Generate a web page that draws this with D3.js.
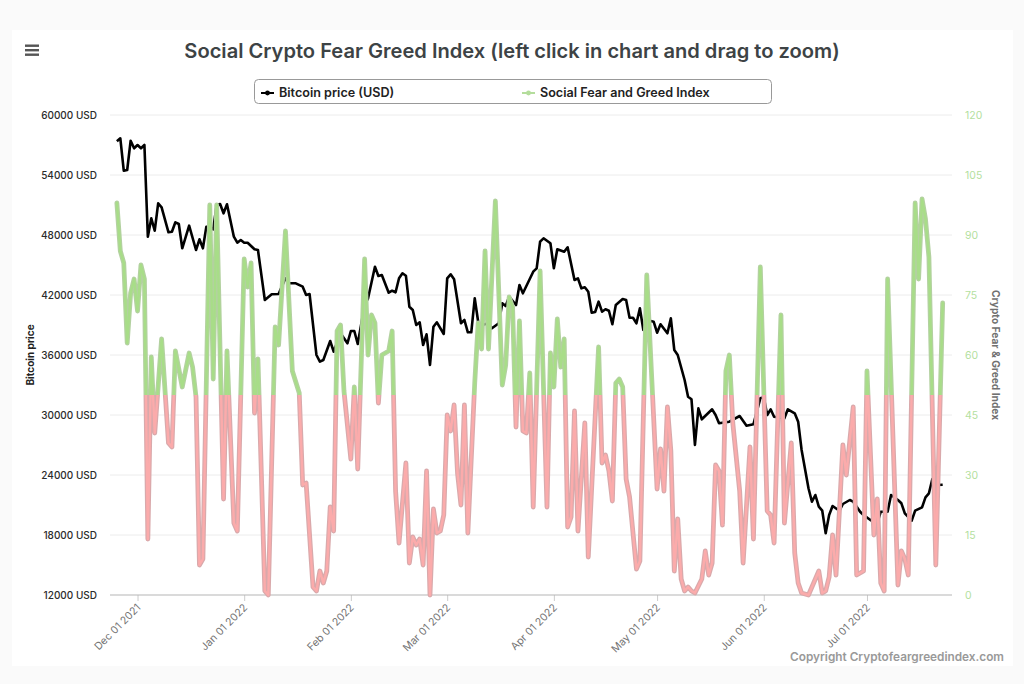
<!DOCTYPE html>
<html lang="en">
<head>
  <meta charset="UTF-8">
  <script src="https://d3js.org/d3.v7.min.js"></script>
  <title>Social Crypto Fear Greed Index</title>
  <style>
    html, body { margin: 0; background: #fafafa; }
    svg { display: block; font-family: Inter, "Noto Sans", sans-serif; }
  </style>
</head>
<body>
  <div id="chart"></div>
  <script>
    // days are counted from Dec 01 2021
    const btcDays = [-6,-5,-4,-3,-2,-1,0,1,2,3,4,5,6,7,9,10,11,12,13,15,17,18,19,20,22,23,24,25,26,28,29,30,31,32,34,35,37,39,41,43,44,46,48,49,50,52,53,54,56,57,59,61,62,63,64,66,67,69,70,71,73,74,75,76,77,78,79,80,81,82,83,84,85,86,87,89,90,91,92,94,95,96,97,98,99,100,102,103,105,106,107,108,110,111,112,115,116,117,118,120,121,122,124,125,127,128,129,130,131,132,133,134,135,136,137,138,139,141,142,143,144,145,146,147,148,150,151,152,154,155,156,157,159,160,161,162,163,164,167,168,169,172,175,177,179,181,182,183,184,185,188,189,191,192,193,195,196,197,198,199,200,201,202,204,205,207,208,210,211,213,215,216,218,219,221,222,223,225,226,228,229,230,231,232,234];
    const btcPrice = [57370,57670,54430,54500,57430,56670,57000,56670,57000,47830,49670,48430,51170,50770,48270,48330,49270,49100,46670,48930,46500,47570,46670,48830,48570,51000,51100,50170,51070,47830,47230,47500,47230,47230,46570,46500,41500,42070,42100,43670,43170,43170,42830,42000,42100,36000,35330,35500,37400,36330,38170,37170,38400,38400,37100,41000,41670,44830,43900,44000,42230,42430,42270,43670,44170,43930,40830,40500,39000,39270,37000,38070,35000,38830,39270,38100,43670,44070,43570,39170,39500,38270,38270,41670,39330,39000,39170,38670,39170,41170,40900,41830,41000,43000,42170,44330,44670,47330,47670,47170,44670,46570,46330,46770,43500,43670,42670,42770,42330,40230,40300,41330,40330,40570,40430,39070,41000,41600,41500,39730,39730,39170,40670,38500,39500,39330,38230,39070,38170,39670,36500,36000,33500,31830,31570,27000,30670,29570,30570,30000,29170,29330,29900,28930,29070,31670,31770,30000,30570,29830,29670,30570,30170,29330,26500,22670,21330,22000,20830,20430,18170,20000,20900,20430,21100,21500,21330,20330,20000,19500,19170,20330,20330,22000,21500,21170,20170,19430,20430,20770,21770,22170,23600,23000,23030];

    const fgDays = [-6,-5,-4,-3,-2,-1,0,1,2,3,4,5,7,9,10,11,13,15,16,17,18,19,21,22,23,25,26,28,29,31,32,33,34,35,37,38,40,41,43,45,47,48,49,51,52,53,54,55,56,57,58,59,60,62,63,64,66,67,68,69,70,71,73,74,75,76,78,79,80,81,82,83,84,85,86,87,88,89,90,91,92,93,94,95,96,98,99,100,101,102,104,106,107,108,109,110,111,112,113,114,115,117,119,120,121,122,123,124,125,126,127,128,130,131,134,135,136,137,138,139,140,141,142,143,145,146,148,151,152,153,154,155,156,157,158,159,160,161,162,164,165,166,167,168,169,170,171,172,173,175,176,178,179,181,183,184,185,187,188,190,191,192,193,195,198,199,200,201,202,203,205,206,208,209,211,212,214,215,216,217,218,221,222,223,224,226,227,228,229,230,232,234];
    const fgIndex = [98,86,83,63,75.5,79,71,82.5,79,14,59.5,40.5,64,38,37,61,52,60.5,57,49.5,7.5,9,97.5,54,97.5,24,61,18,16,84,77,83,45.5,59,1,0,67,62.5,91,56,50.5,27.5,28,2,1,6,3,6,22,16,66,67.5,51,34,52,31.5,84,60,70,68,48,60,61,66,26,13,33,8,14.5,12.5,14,7.5,31,0,21.5,15.5,16,20,45,41,47.5,30.5,22.5,47.5,15.5,53,68,61.5,86,61.5,98.5,52.5,57.5,74.5,72,42,68.5,41,40.5,55.5,22,81,22,60.5,52,69,57,64,17,19.5,46,16,43,9.5,62,33,35,31,23.5,53,54,52,29,24.5,6.5,8.5,80,26.5,36.5,26,47,36,6,19,4,1,2,1,0.5,4,11,5,8,32.5,31,17.5,56,60,43,26,8,37,14,82,21,20,13,70,18,38,10.5,3,0.5,0,6,0.5,1,4.5,15,5,37.5,30,47,5,6,56,15,24,3,1,79,2.5,11,9,5,98,79,99,94,84.5,7.5,73];

    const btcTicks = [12000,18000,24000,30000,36000,42000,48000,54000,60000];
    const fgTicks = [0,15,30,45,60,75,90,105,120];
    const monthTicks = ['2021-12-01','2022-01-01','2022-02-01','2022-03-01','2022-04-01','2022-05-01','2022-06-01','2022-07-01'];
    const fgThreshold = 50;

    const width = 1024, height = 684;
    const parseDay = d3.timeParse('%Y-%m-%d');
    const startDay = parseDay('2021-12-01');
    const toDate = d => d3.timeDay.offset(startDay, d);

    const x = d3.scaleTime().domain([toDate(-8), toDate(237)]).range([110, 953]);
    const yBtc = d3.scaleLinear().domain([12000, 60000]).range([595, 115]);
    const yFg = d3.scaleLinear().domain([0, 120]).range([595, 115]);

    const svg = d3.select('#chart').append('svg')
      .attr('width', width)
      .attr('height', height);

    svg.append('rect')
      .attr('x', 12).attr('y', 30)
      .attr('width', 1001).attr('height', 636)
      .attr('fill', '#fff');

    // title + menu icon
    svg.append('text')
      .attr('x', 512).attr('y', 58)
      .attr('text-anchor', 'middle')
      .attr('font-size', 20.1)
      .attr('font-weight', 600)
      .attr('fill', '#3d4345')
      .text('Social Crypto Fear Greed Index (left click in chart and drag to zoom)');

    svg.append('g').selectAll('rect')
      .data([44.5, 49, 53.5])
      .enter()
      .append('rect')
      .attr('x', 25).attr('y', d => d)
      .attr('width', 14).attr('height', 2.4)
      .attr('fill', '#555');

    // gridlines
    svg.append('g').selectAll('line')
      .data(btcTicks.slice(1))
      .enter()
      .append('line')
      .attr('x1', 110).attr('x2', 952)
      .attr('y1', d => yBtc(d)).attr('y2', d => yBtc(d))
      .attr('stroke', '#ececec');

    // axes
    const leftAxis = svg.append('g')
      .attr('transform', 'translate(110,0)')
      .call(d3.axisLeft(yBtc).tickValues(btcTicks).tickSize(0).tickPadding(13).tickFormat(d => d + ' USD'));
    leftAxis.select('.domain').remove();
    leftAxis.selectAll('text')
      .attr('font-family', 'Inter, sans-serif')
      .attr('font-size', 10)
      .attr('font-weight', 500)
      .attr('fill', '#2b2b2b');

    const rightAxis = svg.append('g')
      .attr('transform', 'translate(952,0)')
      .call(d3.axisRight(yFg).tickValues(fgTicks).tickSize(0).tickPadding(13));
    rightAxis.select('.domain').remove();
    rightAxis.selectAll('text')
      .attr('font-family', 'Inter, sans-serif')
      .attr('font-size', 10.5)
      .attr('fill', '#b4dfa0');

    const bottomAxis = svg.append('g')
      .attr('transform', 'translate(0,595)')
      .call(d3.axisBottom(x).tickValues(monthTicks.map(parseDay)).tickSize(6).tickFormat(d3.timeFormat('%b %d %Y')));
    bottomAxis.select('.domain').remove();
    bottomAxis.selectAll('line').attr('stroke', '#ccc');
    bottomAxis.selectAll('text')
      .attr('font-family', 'Inter, sans-serif')
      .attr('font-size', 10.5)
      .attr('fill', '#737373')
      .attr('text-anchor', 'end')
      .attr('transform', 'rotate(-45)')
      .attr('x', -7)
      .attr('y', 8)
      .attr('dy', '0.35em');

    svg.append('line')
      .attr('x1', 110).attr('x2', 952)
      .attr('y1', 595).attr('y2', 595)
      .attr('stroke', '#b5b5b5')
      .attr('stroke-width', 1.2);

    // axis titles
    svg.append('text')
      .attr('transform', 'translate(34,355) rotate(-90)')
      .attr('text-anchor', 'middle')
      .attr('font-size', 10)
      .attr('font-weight', 700)
      .attr('fill', '#222')
      .text('Bitcoin price');

    svg.append('text')
      .attr('transform', 'translate(992,355) rotate(90)')
      .attr('text-anchor', 'middle')
      .attr('font-size', 10.2)
      .attr('font-weight', 700)
      .attr('fill', '#707070')
      .text('Crypto Fear & Greed Index');

    // green above the threshold, red below
    const defs = svg.append('defs');
    const addGradient = (id, top, bottom) => {
      const stop = (yFg(fgThreshold) - yFg(120)) / (yFg(0) - yFg(120));
      const grad = defs.append('linearGradient')
        .attr('id', id)
        .attr('gradientUnits', 'userSpaceOnUse')
        .attr('x1', 0).attr('x2', 0)
        .attr('y1', yFg(120)).attr('y2', yFg(0));
      grad.append('stop').attr('offset', stop).attr('stop-color', top);
      grad.append('stop').attr('offset', stop).attr('stop-color', bottom);
    };
    addGradient('fgEdge', '#b3d1a0', '#d9a9ab');
    addGradient('fgCore', '#a8dd88', '#fbabab');

    const btcLine = d3.line()
      .x((d, i) => x(toDate(btcDays[i])))
      .y(d => yBtc(d));

    const fgLine = d3.line()
      .x((d, i) => x(toDate(fgDays[i])))
      .y(d => yFg(d));

    svg.append('path')
      .attr('d', btcLine(btcPrice))
      .attr('fill', 'none')
      .attr('stroke', '#000')
      .attr('stroke-width', 2.6)
      .attr('stroke-linejoin', 'round');

    svg.append('path')
      .attr('d', fgLine(fgIndex))
      .attr('fill', 'none')
      .attr('stroke', 'url(#fgEdge)')
      .attr('stroke-width', 4.8)
      .attr('stroke-linejoin', 'round')
      .attr('stroke-linecap', 'round');

    svg.append('path')
      .attr('d', fgLine(fgIndex))
      .attr('fill', 'none')
      .attr('stroke', 'url(#fgCore)')
      .attr('stroke-width', 2.4)
      .attr('stroke-linejoin', 'round')
      .attr('stroke-linecap', 'round');

    // legend
    svg.append('rect')
      .attr('x', 254.5).attr('y', 79.5)
      .attr('width', 517).attr('height', 24)
      .attr('rx', 4)
      .attr('fill', '#fff')
      .attr('stroke', '#999');

    const legendItems = [
      { label: 'Bitcoin price (USD)', color: '#000', at: 261 },
      { label: 'Social Fear and Greed Index', color: '#b4dd9c', at: 522 }
    ];
    const legend = svg.append('g').selectAll('g')
      .data(legendItems)
      .enter()
      .append('g')
      .attr('transform', d => `translate(${d.at},93)`);
    legend.append('line')
      .attr('x1', 0).attr('x2', 13)
      .attr('stroke', d => d.color)
      .attr('stroke-width', 2);
    legend.append('circle')
      .attr('cx', 6.5).attr('r', 2.4)
      .attr('fill', d => d.color);
    legend.append('text')
      .attr('x', 18).attr('y', 4)
      .attr('font-size', 12.6)
      .attr('font-weight', 600)
      .attr('fill', '#222')
      .text(d => d.label);

    svg.append('text')
      .attr('x', 1004).attr('y', 661)
      .attr('text-anchor', 'end')
      .attr('font-size', 11.8)
      .attr('font-weight', 600)
      .attr('fill', '#999')
      .text('Copyright Cryptofeargreedindex.com');
  </script>
</body>
</html>
